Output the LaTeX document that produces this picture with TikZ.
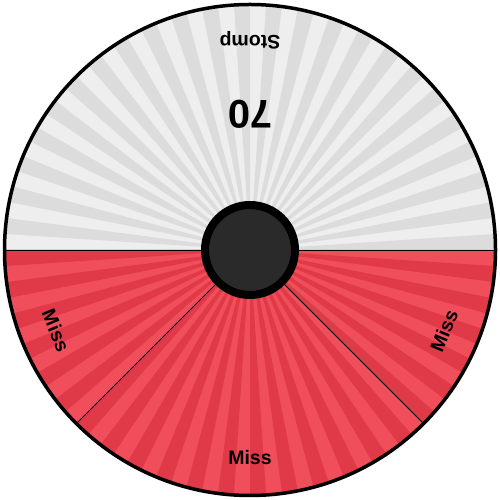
\documentclass[tikz,border=0pt]{standalone}
\usepackage{fontspec}
\setmainfont{Liberation Sans}
\definecolor{greyL}{HTML}{EEEEEE}
\definecolor{greyD}{HTML}{DCDCDC}
\definecolor{redL}{HTML}{F14E5B}
\definecolor{redD}{HTML}{E03A49}
\definecolor{hubfill}{HTML}{2A2A2A}
\begin{document}
\begin{tikzpicture}[x=1pt,y=1pt,
  lbl/.style={font=\fontsize{19.5}{20}\selectfont\bfseries, text=black, inner sep=0pt},
  bignum/.style={font=\fontsize{40}{40}\selectfont\bfseries, text=black, inner sep=0pt},
  divider/.style={draw=black, line width=0.8pt},
  rim/.style={draw=black, line width=3.5pt},
  hubstyle/.style={circle, draw=black, line width=8pt, fill=hubfill, minimum size=90pt, inner sep=0pt}]
\useasboundingbox (0,0) rectangle (500,500);
\coordinate (c) at (250,250);
\def\R{246}
% upper (grey) half
\fill[greyL] (c) -- ++(0:\R) arc[start angle=0,end angle=180,radius=\R] -- cycle;
\foreach \i in {0,2,...,46}
  \fill[greyD] (c) -- ++({\i*3.75}:\R) arc[start angle={\i*3.75}, end angle={\i*3.75+3.75}, radius=\R] -- cycle;
% lower (red) half
\fill[redL] (c) -- ++(180:\R) arc[start angle=180,end angle=360,radius=\R] -- cycle;
\foreach \i in {48,50,...,94}
  \fill[redD] (c) -- ++({\i*3.75}:\R) arc[start angle={\i*3.75}, end angle={\i*3.75+3.75}, radius=\R] -- cycle;
% dividers
\coordinate (e0) at ([shift={(0:\R)}]c);
\coordinate (e180) at ([shift={(180:\R)}]c);
\coordinate (e225) at ([shift={(225:\R)}]c);
\coordinate (e315) at ([shift={(315:\R)}]c);
\draw[divider] (e180) -- (e0);
\draw[divider] (c) -- (e225);
\draw[divider] (c) -- (e315);
% rim
\draw[rim] (c) circle[radius=245.5];
% hub
\node[hubstyle] (hub) at (c) {};
% labels
\node[lbl, rotate=180] (stomp) at ([shift={(90:209.5)}]c) {Stomp};
\node[bignum, rotate=180] (score) at ([shift={(90:136)}]c) {70};
\node[lbl, rotate=-67.5] (missL) at ([shift={(202.5:210)}]c) {Miss};
\node[lbl, rotate=67.5] (missR) at ([shift={(337.5:210)}]c) {Miss};
\node[lbl] (missB) at ([shift={(270:208)}]c) {Miss};
\end{tikzpicture}
\end{document}
